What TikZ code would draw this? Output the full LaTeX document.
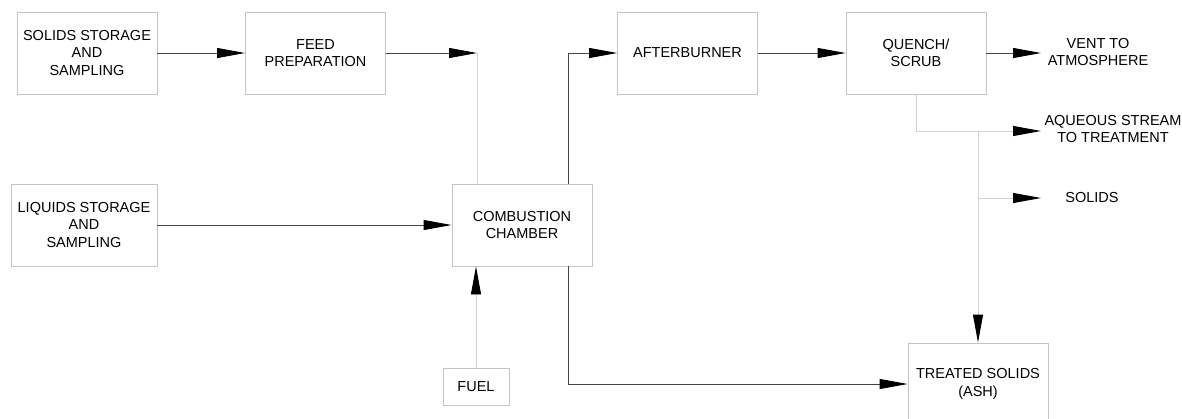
\documentclass[tikz,border=0pt]{standalone}
\usepackage{fontspec}
\setmainfont{Liberation Sans}
\usetikzlibrary{arrows.meta,positioning}

\definecolor{boxgray}{HTML}{C4C4C4}
\definecolor{linedark}{HTML}{444444}
\definecolor{linefaint}{HTML}{D2D2D2}

\tikzstyle{unit}=[draw=boxgray,line width=0.9pt,minimum width=140pt,minimum height=82pt,align=center,inner sep=0pt,font=\fontsize{14.5}{17.5}\selectfont]
\tikzstyle{outlet}=[align=center,inner sep=0pt,font=\fontsize{14.5}{17.5}\selectfont]
\tikzstyle{flow}=[draw=linedark,line width=0.9pt,-{Triangle[length=28pt,width=10pt,color=black]}]
\tikzstyle{faint}=[draw=linefaint,line width=0.9pt]

\begin{document}
\begin{tikzpicture}[x=1pt,y=-1pt,node distance=228.5pt]
\useasboundingbox (0,0) rectangle (1182,418);
\clip (0,0) rectangle (1182,418);

\node[unit] (solids) at (87,53) {SOLIDS STORAGE\\AND\\SAMPLING};
\node[unit] (feed) [right of = solids] {FEED\\PREPARATION};
\node[unit] (after) at (687.5,53) {AFTERBURNER};
\node[unit] (quench) [right of = after] {QUENCH/\\SCRUB};

\node[unit,minimum width=146pt] (liquids) at (84,225) {LIQUIDS STORAGE\\AND\\SAMPLING};
\node[unit] (comb) at (522,225) {COMBUSTION\\CHAMBER};
\node[unit,minimum width=66pt,minimum height=37pt] (fuel) at (476,386.5) {FUEL};
\node[unit] (treated) at (978,384) {TREATED SOLIDS\\(ASH)};

\node[outlet] (vent) at (1098,52) {VENT TO\\ATMOSPHERE};
\node[outlet] (aqueous) at (1113,129) {AQUEOUS STREAM\\TO TREATMENT};
\node[outlet] (solidsout) at (1092,198) {SOLIDS};

\coordinate (feedend) at (477,53);
\coordinate (ventend) at (1041,53);
\coordinate (aqend) at (1041,131);
\coordinate (solend) at (1041,198);
\coordinate (split) at (978,131);

\draw[flow] (solids) -- (feed);
\draw[flow] (feed) -- (feedend);
\path[faint] (feedend) -- (feedend |- comb.north);
\draw[flow] ([xshift=46pt]comb.north) |- (after);
\draw[flow] (after) -- (quench);
\draw[flow] (quench) -- (ventend);

\draw[flow,draw=linefaint] (quench) |- (aqend);
\draw[flow,draw=linefaint] (split) -- (treated);
\draw[flow,draw=linefaint] (split |- solend) -- (solend);

\draw[flow] (liquids) -- (comb);
\draw[flow,draw=linefaint] (fuel.north) -- (fuel.north |- comb.south);
\draw[flow] ([xshift=46pt]comb.south) |- (treated);

\end{tikzpicture}
\end{document}
